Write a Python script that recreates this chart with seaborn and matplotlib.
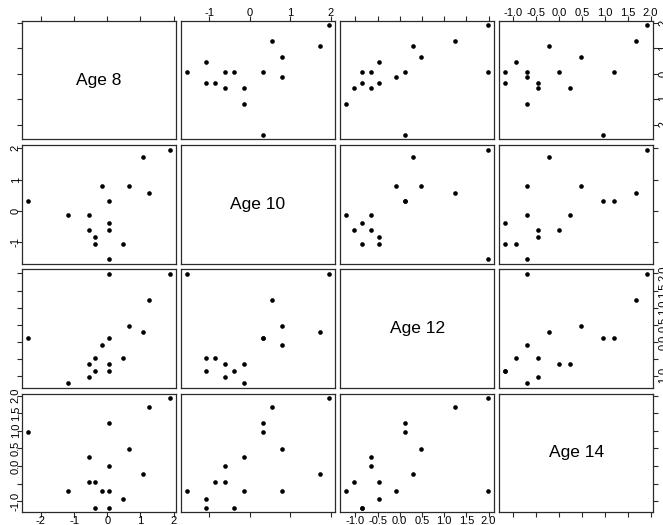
import matplotlib
matplotlib.use("Agg")
import matplotlib.pyplot as plt
from matplotlib.ticker import FixedLocator, FixedFormatter
import pandas as pd
import seaborn as sns

# Standardised orthodontic distance (boys), one value per subject
age8 = [1.27, -0.56, 0.05, 1.07, -1.17, 0.66, -0.36, 0.46,
        0.05, 1.89, 0.05, -0.56, -2.40, -0.15, 0.05, -0.36]
age10 = [0.56, -0.61, -0.61, 1.73, -0.15, 0.79, -0.85, -1.08,
         -1.55, 1.96, -0.38, -0.15, 0.32, 0.79, 0.32, -1.08]
age12 = [1.24, -1.03, -0.65, 0.29, -1.21, 0.48, -0.46, -0.46,
         1.99, 1.99, -0.84, -0.65, 0.11, -0.08, 0.11, -0.84]
age14 = [1.69, -0.46, 0.01, -0.22, -0.70, 0.49, -0.46, -0.94,
         -0.70, 1.93, -1.18, 0.25, 0.97, -0.70, 1.21, -1.18]

names = ["Age 8", "Age 10", "Age 12", "Age 14"]

# Axis ticks and their labels per variable
int_ticks8 = [-2, -1, 0, 1, 2]
int_labels8 = ["-2", "-1", "0", "1", "2"]
int_ticks10 = [-1, 0, 1, 2]
int_labels10 = ["-1", "0", "1", "2"]
half_ticks = [-1.0, -0.5, 0.0, 0.5, 1.0, 1.5, 2.0]
half_labels = ["-1.0", "-0.5", "0.0", "0.5", "1.0", "1.5", "2.0"]
half_labels_vert = ["-1.0", "", "0.0", "0.5", "1.0", "1.5", "2.0"]

df = pd.DataFrame({"Age 8": age8, "Age 10": age10,
                   "Age 12": age12, "Age 14": age14})

sns.set_theme(style="white")
plt.rcParams["font.family"] = ["Liberation Sans", "DejaVu Sans"]
plt.rcParams["axes.xmargin"] = 0.04
plt.rcParams["axes.ymargin"] = 0.04

edge = "#2a2a2a"
fig, axes = plt.subplots(4, 4, figsize=(6.63, 5.25), dpi=100,
                         sharex="col", sharey="row")
fig.subplots_adjust(left=0.0332, right=0.9849, bottom=0.0248, top=0.96,
                    wspace=0.036, hspace=0.05)

for i, yname in enumerate(names):
    for j, xname in enumerate(names):
        ax = axes[i, j]
        ax.set_facecolor("white")
        for sp in ax.spines.values():
            sp.set_color(edge)
            sp.set_linewidth(0.9)
        if i == j:
            ax.text(0.5, 0.5, yname, transform=ax.transAxes,
                    ha="center", va="center", fontsize=12.5, color="black")
        else:
            sns.scatterplot(data=df, x=xname, y=yname, ax=ax, color="black",
                            s=11, linewidth=0, legend=False)
        ax.set_xlabel("")
        ax.set_ylabel("")
        ax.tick_params(which="both", bottom=False, top=False, left=False,
                       right=False, labelbottom=False, labeltop=False,
                       labelleft=False, labelright=False,
                       length=3.5, width=0.8, color=edge, pad=0.5,
                       labelsize=8, labelcolor="black")

# x ticks per column, y ticks per row
xspec = [(int_ticks8, int_labels8), (int_ticks10, int_labels10),
         (half_ticks, half_labels), (half_ticks, half_labels)]
yspec = [(int_ticks8, int_labels8), (int_ticks10, int_labels10),
         (half_ticks, half_labels_vert), (half_ticks, half_labels_vert)]

for j, (t, lab) in enumerate(xspec):
    axes[0, j].xaxis.set_major_locator(FixedLocator(t))
    axes[0, j].xaxis.set_major_formatter(FixedFormatter(lab))
    axes[0, j].tick_params(axis="x", top=True, labeltop=(j % 2 == 1), pad=-1.6)
    axes[3, j].tick_params(axis="x", bottom=True, labelbottom=(j % 2 == 0),
                           pad=-0.3)

for i, (t, lab) in enumerate(yspec):
    axes[i, 0].yaxis.set_major_locator(FixedLocator(t))
    axes[i, 0].yaxis.set_major_formatter(FixedFormatter(lab))
    axes[i, 0].tick_params(axis="y", left=True, labelleft=(i % 2 == 1),
                           labelrotation=90, pad=-2.6)
    axes[i, 3].tick_params(axis="y", right=True, labelright=(i % 2 == 0),
                           labelrotation=90, pad=0.5)
    for lbl in axes[i, 0].get_yticklabels() + axes[i, 3].get_yticklabels(which="major"):
        lbl.set_va("center")

fig.savefig("out.png", dpi=100, facecolor="white")
